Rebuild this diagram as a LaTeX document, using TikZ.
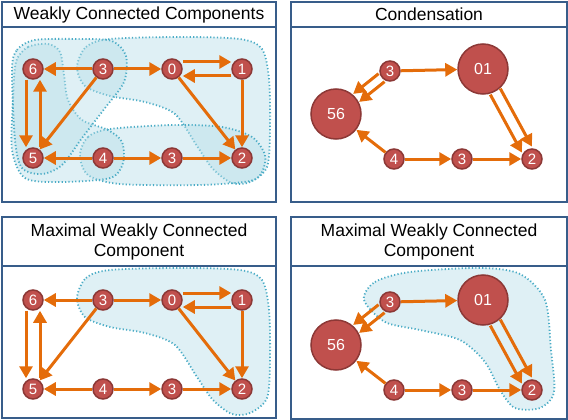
\documentclass[tikz,border=0pt]{standalone}
\usepackage{fontspec}
\setmainfont{Liberation Sans}
\usetikzlibrary{arrows.meta}

\definecolor{nodered}{HTML}{C0504D}
\definecolor{noderim}{HTML}{8C3836}
\definecolor{edgeorange}{HTML}{E46C0A}
\definecolor{hullblue}{HTML}{B7DEE8}
\definecolor{hullrim}{HTML}{4BACC6}
\definecolor{frameblue}{HTML}{385D8A}

% hull outlines, in pixel coordinates
\def\hullSix{plot[smooth cycle] coordinates {(12,70) (17,50) (35,40) (80,39) (112,41) (126,56) (124,82) (105,108) (82,138) (62,165) (42,174) (22,168) (15,140)}}
\def\hullFive{plot[smooth cycle] coordinates {(16,62) (28,47) (48,44) (60,52) (64,75) (68,100) (82,120) (108,130) (122,142) (123,163) (110,178) (60,182) (25,178) (12,150) (13,100)}}
\def\hullTop{plot[smooth cycle] coordinates {(77,67) (86,47) (110,39) (180,37) (240,39) (262,49) (269,79) (270,129) (267,167) (250,182) (232,183) (213,169) (197,146) (175,114) (145,102) (110,96) (85,86)}}
\def\hullLow{plot[smooth cycle] coordinates {(80,155) (88,137) (110,129) (173,125) (222,127) (252,137) (265,155) (262,172) (250,181) (200,185) (120,184) (88,175)}}
\def\hullMax{plot[smooth cycle] coordinates {(77,298) (86,278) (110,270) (180,268) (240,270) (262,280) (269,310) (270,360) (267,398) (250,413) (232,414) (213,400) (197,377) (175,345) (145,333) (110,327) (85,317)}}
\def\hullCond{plot[smooth cycle] coordinates {(364,300) (375,282) (410,272) (480,268) (520,274) (545,300) (551,350) (554,392) (540,408) (515,408) (500,390) (485,362) (460,340) (420,330) (385,322)}}

\begin{document}
\begin{tikzpicture}[
x=1pt, y=-1pt,
vertex/.style={
  circle, draw=noderim, fill=nodered, line width=1.5pt,
  minimum size=20pt, inner sep=0pt, text=white,
  font={\fontsize{15}{15}\selectfont}
  },
bigvertex/.style={vertex, minimum size=50pt, font={\fontsize{16}{16}\selectfont}},
arc/.style={-{Triangle[length=12pt,width=13pt]}, color=edgeorange, line width=3pt},
nudge/.style={transform canvas={shift={#1}}},
hull/.style={
  fill=hullblue, fill opacity=0.45, draw=hullrim, draw opacity=1,
  line width=1.8pt, dash pattern=on 1.2pt off 2.2pt
  },
titlebox/.style={
  draw=frameblue, line width=1.5pt, fill=white, inner sep=0pt,
  align=center, font={\fontsize{17.5}{20}\selectfont}
  },
panel/.style={draw=frameblue, line width=1.2pt}
]
\useasboundingbox (0,0) rectangle (568,420);

% panel frames
\draw[panel] (2,27) rectangle (276,202);
\draw[panel] (291,27) rectangle (567,202);
\draw[panel] (2,266) rectangle (276,418);
\draw[panel] (291,266) rectangle (567,419);
\node[titlebox, minimum width=274pt, minimum height=25pt] (t1) at (139,14.5) {Weakly Connected Components};
\node[titlebox, minimum width=276pt, minimum height=25pt] (t2) at (429,14.5) {Condensation};
\node[titlebox, minimum width=274pt, minimum height=49pt] (t3) at (139,241.5) {Maximal Weakly Connected\\Component};
\node[titlebox, minimum width=276pt, minimum height=49pt] (t4) at (429,241.5) {Maximal Weakly Connected\\Component};

% hulls
\foreach \H in {\hullTop,\hullLow,\hullFive,\hullSix,\hullMax,\hullCond}
  \path[hull] \H;

% original graph (left panels)
\foreach \P/\dy in {a/0,c/231}{
  \node[vertex] (\P6) at (33,{69+\dy}) {6};
  \node[vertex] (\P3) at (103,{69+\dy}) {3};
  \node[vertex] (\P0) at (172,{69+\dy}) {0};
  \node[vertex] (\P1) at (242,{69+\dy}) {1};
  \node[vertex] (\P5) at (33,{158+\dy}) {5};
  \node[vertex] (\P4) at (103,{158+\dy}) {4};
  \node[vertex] (\P3b) at (172,{158+\dy}) {3};
  \node[vertex] (\P2) at (242,{158+\dy}) {2};
  \draw[arc] (\P3) -- (\P6);
  \draw[arc] (\P3) -- (\P0);
  \draw[arc, nudge={(0,-7)}] (\P0) -- (\P1);
  \draw[arc, nudge={(0,7)}] (\P1) -- (\P0);
  \draw[arc] (\P1) -- (\P2);
  \draw[arc] (\P0) -- (\P2);
  \draw[arc] (\P3) -- (\P5);
  \draw[arc, nudge={(-7,0)}] (\P6) -- (\P5);
  \draw[arc, nudge={(7,0)}] (\P5) -- (\P6);
  \draw[arc] (\P4) -- (\P5);
  \draw[arc] (\P4) -- (\P3b);
  \draw[arc] (\P3b) -- (\P2);
}

% condensed graph (right panels)
\foreach \P/\dy in {b/0,d/231}{
  \node[vertex] (\P3) at (390,{71+\dy}) {3};
  \node[bigvertex] (\P01) at (483,{69+\dy}) {01};
  \node[bigvertex] (\P56) at (336,{114+\dy}) {56};
  \node[vertex] (\P4) at (394,{159+\dy}) {4};
  \node[vertex] (\P3b) at (462,{159+\dy}) {3};
  \node[vertex] (\P2) at (532,{159+\dy}) {2};
  \draw[arc, nudge={(3,4)}] (\P3) -- (\P56);
  \draw[arc, nudge={(-3,-4)}] (\P3) -- (\P56);
  \draw[arc] (\P3) -- (\P01);
  \draw[arc, nudge={(5,-3)}] (\P01) -- (\P2);
  \draw[arc, nudge={(-5,3)}] (\P01) -- (\P2);
  \draw[arc] (\P4) -- (\P56);
  \draw[arc] (\P4) -- (\P3b);
  \draw[arc] (\P3b) -- (\P2);
}
\end{tikzpicture}
\end{document}
